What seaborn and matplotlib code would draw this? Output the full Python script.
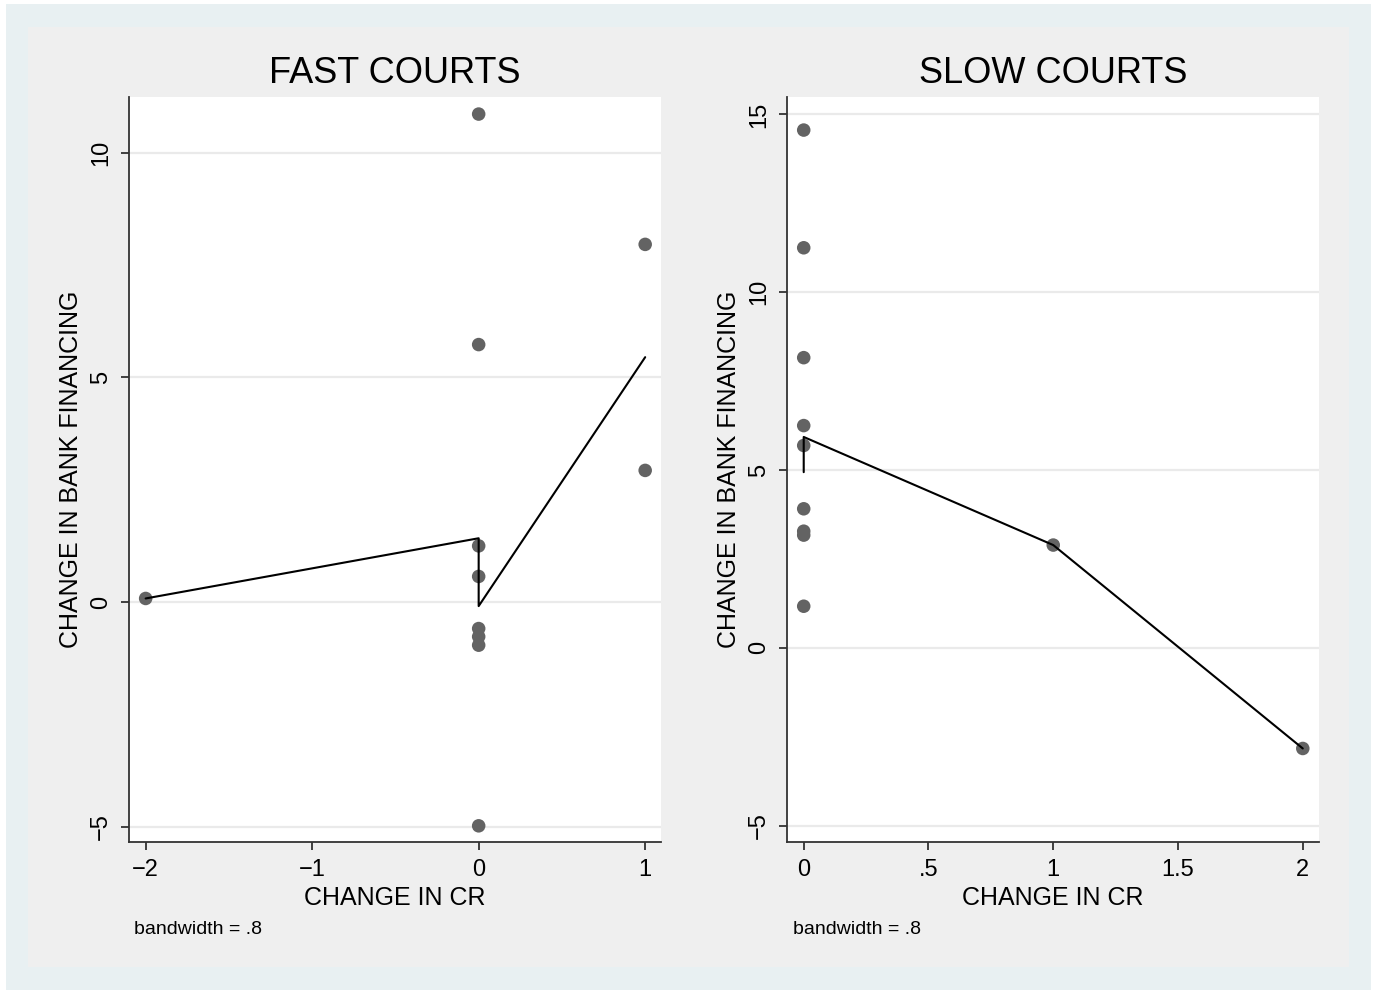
import matplotlib
matplotlib.use("Agg")
import matplotlib.pyplot as plt
import seaborn as sns
import pandas as pd
from matplotlib.patches import Rectangle

# ---------------- data ----------------
fast_x = [-2, 0, 0, 0, 0, 0, 0, 0, 0, 1, 1]
fast_y = [0.08, 10.86, 5.73, 1.25, 0.57, -0.59, -0.77, -0.96, -4.98, 7.96, 2.93]
fast_fit_x = [-2, 0, 0, 1]
fast_fit_y = [0.08, 1.42, -0.09, 5.45]

slow_x = [0, 0, 0, 0, 0, 0, 0, 0, 0, 1, 2]
slow_y = [14.56, 11.25, 8.16, 6.25, 5.69, 3.91, 3.28, 3.17, 1.17, 2.89, -2.83]
slow_fit_x = [0, 0, 1, 2]
slow_fit_y = [4.94, 5.93, 2.89, -2.83]

titles = ["FAST COURTS", "SLOW COURTS"]
xlabel = "CHANGE IN CR"
ylabel = "CHANGE IN BANK FINANCING"
note = "bandwidth = .8"

fast_xticks = [-2, -1, 0, 1]
fast_xticklabels = ["\u22122", "\u22121", "0", "1"]
fast_yticks = [-5, 0, 5, 10]
fast_yticklabels = ["\u22125", "0", "5", "10"]

slow_xticks = [0, 0.5, 1, 1.5, 2]
slow_xticklabels = ["0", ".5", "1", "1.5", "2"]
slow_yticks = [-5, 0, 5, 10, 15]
slow_yticklabels = ["\u22125", "0", "5", "10", "15"]

# ---------------- style ----------------
sns.set_theme(style="white")
plt.rcParams["font.family"] = ["Liberation Sans", "DejaVu Sans"]

W, H = 1377, 994
fig = plt.figure(figsize=(W / 100, H / 100), dpi=100)
fig.patch.set_facecolor("white")
fig.add_artist(Rectangle((6 / W, 4 / H), (W - 12) / W, (H - 8) / H,
                         transform=fig.transFigure, facecolor="#e8f0f2",
                         edgecolor="none", zorder=-10))
fig.add_artist(Rectangle((28 / W, 27 / H), (W - 56) / W, (H - 54) / H,
                         transform=fig.transFigure, facecolor="#efefef",
                         edgecolor="none", zorder=-9))

def px_rect(x0, y0, x1, y1):
    return [x0 / W, (H - y1) / H, (x1 - x0) / W, (y1 - y0) / H]

panels = [
    dict(rect=px_rect(129, 97, 661, 842), x=fast_x, y=fast_y,
         fx=fast_fit_x, fy=fast_fit_y, xlim=(-2.10, 1.095), ylim=(-5.34, 11.24),
         xt=fast_xticks, xtl=fast_xticklabels, yt=fast_yticks, ytl=fast_yticklabels,
         title=titles[0], note_x=134),
    dict(rect=px_rect(787, 97, 1319, 842), x=slow_x, y=slow_y,
         fx=slow_fit_x, fy=slow_fit_y, xlim=(-0.067, 2.065), ylim=(-5.46, 15.49),
         xt=slow_xticks, xtl=slow_xticklabels, yt=slow_yticks, ytl=slow_yticklabels,
         title=titles[1], note_x=793),
]

for p in panels:
    ax = fig.add_axes(p["rect"])
    ax.set_facecolor("white")
    df = pd.DataFrame({"x": p["x"], "y": p["y"]})
    fit = pd.DataFrame({"x": p["fx"], "y": p["fy"]})
    ax.set_xlim(*p["xlim"])
    ax.set_ylim(*p["ylim"])
    for yv in p["yt"]:
        ax.axhline(yv, color="#eaeaea", lw=1.6, zorder=0)
    sns.scatterplot(data=df, x="x", y="y", ax=ax, color="#636363", s=95,
                    edgecolor="none", linewidth=0, zorder=3)
    sns.lineplot(data=fit, x="x", y="y", ax=ax, sort=False, estimator=None,
                 color="black", lw=1.5, zorder=4)
    ax.set_xticks(p["xt"])
    ax.set_xticklabels(p["xtl"], fontsize=17)
    ax.set_yticks(p["yt"])
    ax.set_yticklabels(p["ytl"], fontsize=17, rotation=90, va="center")
    ax.tick_params(axis="both", direction="out", length=6, width=1.2,
                   color="#222222", labelcolor="black", left=True, bottom=True)
    ax.tick_params(axis="x", pad=6)
    ax.tick_params(axis="y", pad=6)
    for s in ["top", "right"]:
        ax.spines[s].set_visible(False)
    for s in ["left", "bottom"]:
        ax.spines[s].set_color("#333333")
        ax.spines[s].set_linewidth(1.3)
    ax.set_xlabel(xlabel, fontsize=18, color="black")
    ax.set_ylabel(ylabel, fontsize=18, color="black")
    ax.xaxis.set_label_coords(0.5, -0.059)
    ax.yaxis.set_label_coords(-0.086, 0.5)
    ax.text(0.5, 1.032, p["title"], transform=ax.transAxes, ha="center",
            va="center", fontsize=26, color="black")
    fig.text(p["note_x"] / W, 1 - 930 / H, note, ha="left", va="center",
             fontsize=14, color="black")

fig.savefig("out.png", dpi=100)
